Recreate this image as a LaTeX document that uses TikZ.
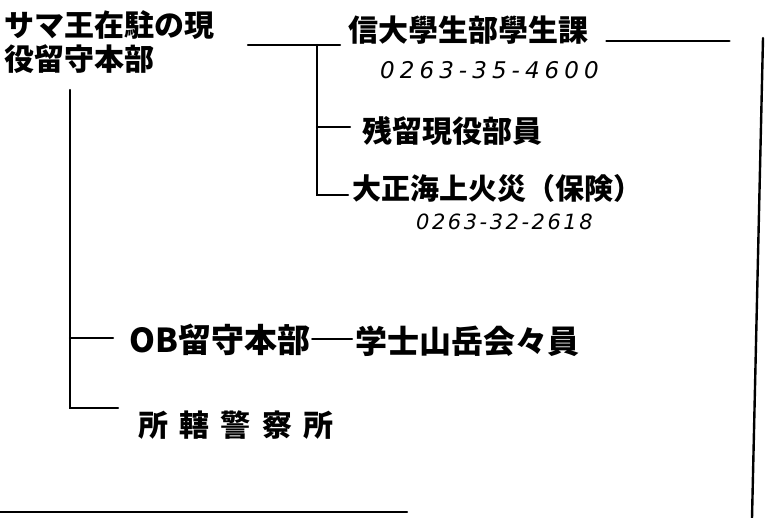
\documentclass[tikz,border=0pt]{standalone}
\usepackage{fontspec}
\usetikzlibrary{calc}
\newfontfamily\jp{Noto Sans CJK JP}
\newfontfamily\jpwide[LetterSpace=38]{Noto Sans CJK JP}
\newfontfamily\num[LetterSpace=22]{DejaVu Sans Oblique}
\tikzset{
  lbl/.style={inner sep=0pt, anchor=west, font=\jp\bfseries\fontsize{30}{34}\selectfont},
  phone/.style={inner sep=0pt, anchor=west, font=\num\fontsize{23}{26}\selectfont},
  wire/.style={line width=2.4pt, line cap=round}
}
\begin{document}
\begin{tikzpicture}[x=1pt,y=-1pt]
\useasboundingbox[fill=white] (0,0) rectangle (770,518);
% nodes
\node[lbl, anchor=north west, align=left] (title) at (4,10) {サマ王在駐の現\\役留守本部};
\node[lbl] (shin) at (348,30) {信大學生部學生課};
\node[phone] (tel1) at (380,70) {0263-35-4600};
\node[lbl] (zan) at (362,131) {残留現役部員};
\node[lbl, font=\jp\bfseries\fontsize{29}{32}\selectfont] (taisho) at (352,188) {大正海上火災（保険）};
\node[phone, font=\num\fontsize{21}{24}\selectfont\addfontfeature{LetterSpace=12}] (tel2) at (416,222) {0263-32-2618};
\node[lbl, font=\jp\bfseries\fontsize{33}{36}\selectfont] (ob) at (129,340) {OB留守本部};
\node[lbl, font=\jp\bfseries\fontsize{32}{35}\selectfont] (gaku) at (355,341) {学士山岳会々員};
\node[lbl, font=\jpwide\bfseries\fontsize{30}{34}\selectfont] (shokatsu) at (138,425) {所轄警察所};
% coordinates
\coordinate (ta) at (248,45);
\coordinate (tb) at (340,45);
\coordinate (tv) at (317,45);
\coordinate (rt) at (763,38);
\coordinate (rb) at (752,518);
\coordinate (lt) at (70,90);
\coordinate (bl) at (0,512);
\coordinate (br) at (407,512);
% connectors
\draw[wire] (ta) -- (tb);
\draw[wire] (tv) |- ($(taisho.west)+(-4,7)$);
\draw[wire] (317,127) -- ($(zan.west)+(-12,-4)$);
\draw[wire] ($(shin.east)+(18,11)$) -- ++(123,0);
\draw[wire] (rt) -- (rb);
\draw[wire] (lt) |- ($(shokatsu.west)+(-20,-17)$);
\draw[wire] (70,338) -- ($(ob.west)+(-16,-2)$);
\draw[wire] ($(ob.east)+(2,-1)$) -- ($(gaku.west)+(-3,-2)$);
\draw[wire] (bl) -- (br);
\end{tikzpicture}
\end{document}
